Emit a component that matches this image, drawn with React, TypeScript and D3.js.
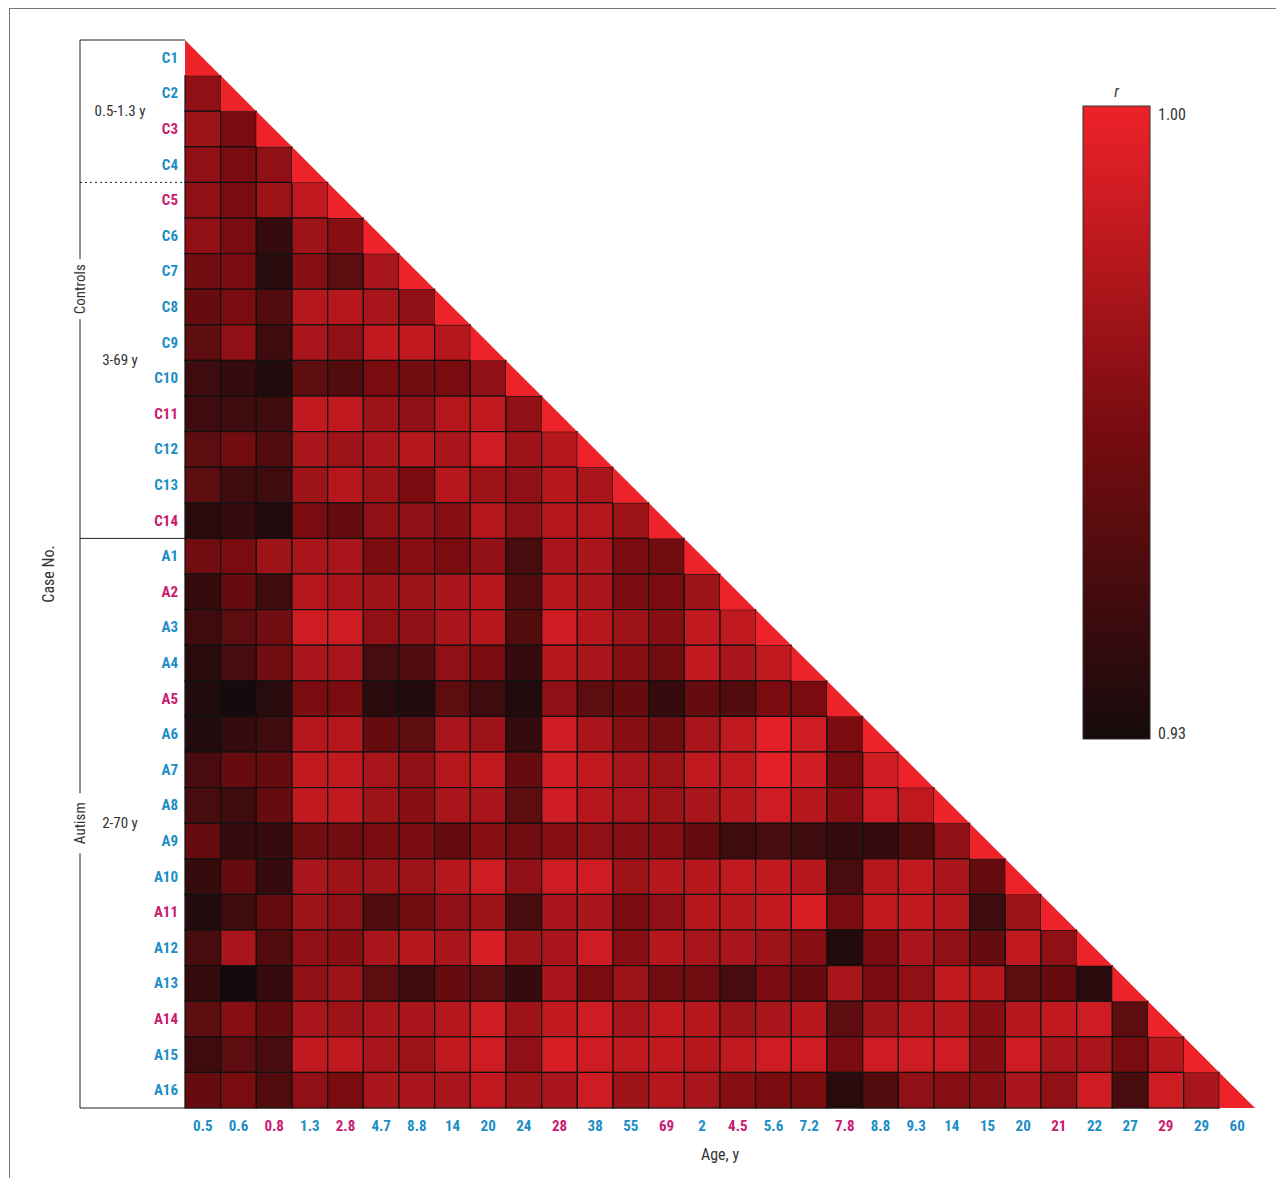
import * as d3 from 'd3';

const rowLabels = ['C1','C2','C3','C4','C5','C6','C7','C8','C9','C10','C11','C12','C13','C14',
  'A1','A2','A3','A4','A5','A6','A7','A8','A9','A10','A11','A12','A13','A14','A15','A16'];
const ageLabels = ['0.5','0.6','0.8','1.3','2.8','4.7','8.8','14','20','24','28','38','55','69',
  '2','4.5','5.6','7.2','7.8','8.8','9.3','14','15','20','21','22','27','29','29','60'];
// indices drawn in magenta
const magentaIdx = [2, 4, 10, 13, 15, 18, 24, 27];

// lower-triangle correlations, row i holds columns 0..i-1 (diagonal = 1.00)
const corr: number[][] = [
  [],
  [.972],
  [.976,.965],
  [.972,.965,.972],
  [.972,.965,.976,.986],
  [.972,.965,.941,.976,.969],
  [.962,.965,.937,.969,.955,.979],
  [.958,.965,.951,.983,.983,.979,.972],
  [.955,.972,.944,.979,.972,.986,.986,.983],
  [.944,.941,.934,.955,.951,.965,.962,.965,.972],
  [.944,.944,.944,.986,.986,.976,.972,.983,.986,.972],
  [.955,.962,.951,.979,.976,.979,.983,.979,.990,.976,.983],
  [.955,.944,.944,.976,.983,.976,.965,.983,.976,.972,.983,.979],
  [.937,.941,.934,.965,.958,.972,.972,.969,.983,.972,.983,.983,.976],
  [.962,.965,.976,.979,.979,.965,.969,.965,.972,.948,.979,.979,.965,.962],
  [.941,.958,.944,.983,.979,.976,.976,.979,.983,.951,.983,.979,.965,.965,.976],
  [.944,.955,.962,.990,.990,.972,.972,.979,.983,.951,.990,.983,.976,.969,.986,.986],
  [.937,.948,.962,.979,.979,.948,.951,.972,.965,.941,.983,.979,.969,.962,.986,.979,.986],
  [.934,.930,.937,.965,.965,.937,.934,.955,.944,.934,.972,.955,.958,.941,.958,.951,.965,.965],
  [.934,.941,.944,.983,.983,.958,.955,.979,.976,.941,.990,.979,.969,.962,.979,.986,.997,.990,.965],
  [.948,.958,.958,.986,.986,.979,.972,.983,.986,.958,.990,.986,.979,.976,.986,.986,.997,.990,.965,.990],
  [.948,.944,.958,.986,.986,.976,.969,.979,.979,.955,.990,.983,.979,.976,.979,.983,.990,.983,.969,.990,.986],
  [.958,.941,.941,.962,.962,.965,.965,.958,.969,.962,.969,.972,.969,.969,.958,.944,.948,.944,.941,.941,.951,.972],
  [.941,.958,.941,.979,.976,.976,.976,.983,.990,.972,.990,.990,.976,.983,.983,.986,.986,.983,.948,.983,.986,.979,.958],
  [.934,.944,.958,.976,.972,.951,.962,.972,.976,.948,.979,.979,.965,.972,.983,.983,.986,.993,.965,.986,.986,.983,.944,.976],
  [.948,.979,.951,.972,.969,.979,.983,.979,.993,.976,.979,.990,.969,.983,.979,.979,.976,.969,.934,.965,.979,.972,.958,.986,.972],
  [.941,.930,.941,.972,.976,.955,.944,.958,.955,.941,.979,.965,.976,.962,.962,.948,.965,.958,.979,.965,.972,.986,.983,.955,.958,.937],
  [.955,.969,.958,.979,.976,.979,.979,.983,.990,.976,.986,.990,.979,.986,.983,.976,.979,.983,.955,.976,.983,.983,.969,.983,.986,.990,.955],
  [.944,.955,.948,.986,.986,.979,.976,.986,.990,.972,.993,.990,.986,.986,.983,.986,.990,.990,.965,.990,.990,.990,.969,.990,.979,.979,.965,.983],
  [.958,.965,.951,.972,.965,.979,.979,.979,.986,.976,.979,.990,.976,.983,.979,.969,.965,.965,.937,.951,.972,.969,.969,.979,.972,.990,.948,.990,.979],
];

const legendTicks = [1.0, 0.93];
const groups = [
  { name: 'Controls', sub: [{ label: '0.5-1.3 y', from: 0, to: 4 }, { label: '3-69 y', from: 4, to: 14 }], from: 0, to: 14 },
  { name: 'Autism', sub: [{ label: '2-70 y', from: 14, to: 30 }], from: 14, to: 30 },
];

const BLUE = '#1b8ec6';
const MAGENTA = '#c91a72';
const FONT = '"Liberation Sans Narrow", "Roboto Condensed", Roboto, sans-serif';

export default function App() {
  const W = 1284, H = 1186;
  const x0 = 185, x1 = 1255, y0 = 40, y1 = 1108;
  const x = d3.scaleBand<number>().domain(d3.range(30)).range([x0, x1]);
  const y = d3.scaleBand<number>().domain(d3.range(30)).range([y0, y1]);
  const bw = x.bandwidth();
  const color = d3.scaleLinear<string>().domain([0.93, 0.965, 1.0]).range(['#160b0c', '#7a0c10', '#ee2229']).clamp(true);
  const lx0 = 1083, lx1 = 1150, ly0 = 106, ly1 = 739;
  const ly = d3.scaleLinear().domain([0.93, 1.0]).range([ly1, ly0]);
  const lab = (i: number) => (magentaIdx.includes(i) ? MAGENTA : BLUE);

  return (
    <svg width={W} height={H} style={{ display: 'block', margin: -8, background: '#fff', fontFamily: FONT }}>
      <defs>
        <linearGradient id="lg" x1="0" y1="1" x2="0" y2="0">
          {d3.range(0, 1.0001, 0.1).map(t => (
            <stop key={t} offset={t} stopColor={color(0.93 + t * 0.07)} />
          ))}
        </linearGradient>
      </defs>
      <rect x={9.5} y={8.5} width={1290} height={1190} fill="none" stroke="#777" strokeWidth={1} />

      {/* cells */}
      {corr.map((row, i) => row.map((v, j) => (
        <rect key={`${i}-${j}`} x={x(j)} y={y(i)} width={bw} height={bw}
          fill={color(v)} stroke="#111" strokeWidth={1.2} />
      )))}
      {d3.range(30).map(i => (
        <path key={`d${i}`} d={`M${x(i)},${y(i)}L${x(i)! + bw},${y(i)! + bw}L${x(i)},${y(i)! + bw}Z`}
          fill={color(1)} />
      ))}

      {/* row labels */}
      {rowLabels.map((l, i) => (
        <text key={l} x={178} y={y(i)! + bw / 2 + 5} textAnchor="end" fontSize={15} fontWeight="bold" fill={lab(i)} style={{ fontStretch: 'condensed' }}>{l}</text>
      ))}
      {/* column labels */}
      {ageLabels.map((l, i) => (
        <text key={i} x={x(i)! + bw / 2} y={1131} textAnchor="middle" fontSize={15} fontWeight="bold" fill={lab(i)}>{l}</text>
      ))}
      <text x={720} y={1160} textAnchor="middle" fontSize={16} fill="#333">Age, y</text>

      {/* group bracket */}
      <line x1={80} x2={80} y1={y0} y2={y1} stroke="#222" />
      <line x1={80} x2={x0} y1={y0} y2={y0} stroke="#222" />
      <line x1={80} x2={x0} y1={y(14)} y2={y(14)} stroke="#222" />
      <line x1={80} x2={x0} y1={y1} y2={y1} stroke="#222" />
      <line x1={80} x2={182} y1={y(4)} y2={y(4)} stroke="#222" strokeDasharray="2,3" />
      {groups.map(g => {
        const cy = (y(g.from)! + y(g.to - 1)! + bw) / 2;
        return (
          <g key={g.name}>
            <rect x={72} y={cy - 30} width={16} height={60} fill="#fff" />
            <text transform={`translate(85,${cy}) rotate(-90)`} textAnchor="middle" fontSize={15} fill="#333">{g.name}</text>
            {g.sub.map(s => (
              <text key={s.label} x={120} y={(y(s.from)! + y(s.to - 1)! + bw) / 2 + 5} textAnchor="middle" fontSize={15} fill="#333">{s.label}</text>
            ))}
          </g>
        );
      })}
      <text transform={`translate(54,${(y0 + y1) / 2}) rotate(-90)`} textAnchor="middle" fontSize={16} fill="#333">Case No.</text>

      {/* legend */}
      <rect x={lx0} y={ly0} width={lx1 - lx0} height={ly1 - ly0} fill="url(#lg)" stroke="#333" />
      <text x={(lx0 + lx1) / 2} y={97} textAnchor="middle" fontSize={16} fontStyle="italic" fill="#333">r</text>
      {legendTicks.map(t => (
        <text key={t} x={lx1 + 8} y={ly(t) + (t === 1 ? 14 : 0)} fontSize={16} fill="#333">{t.toFixed(2)}</text>
      ))}
    </svg>
  );
}
